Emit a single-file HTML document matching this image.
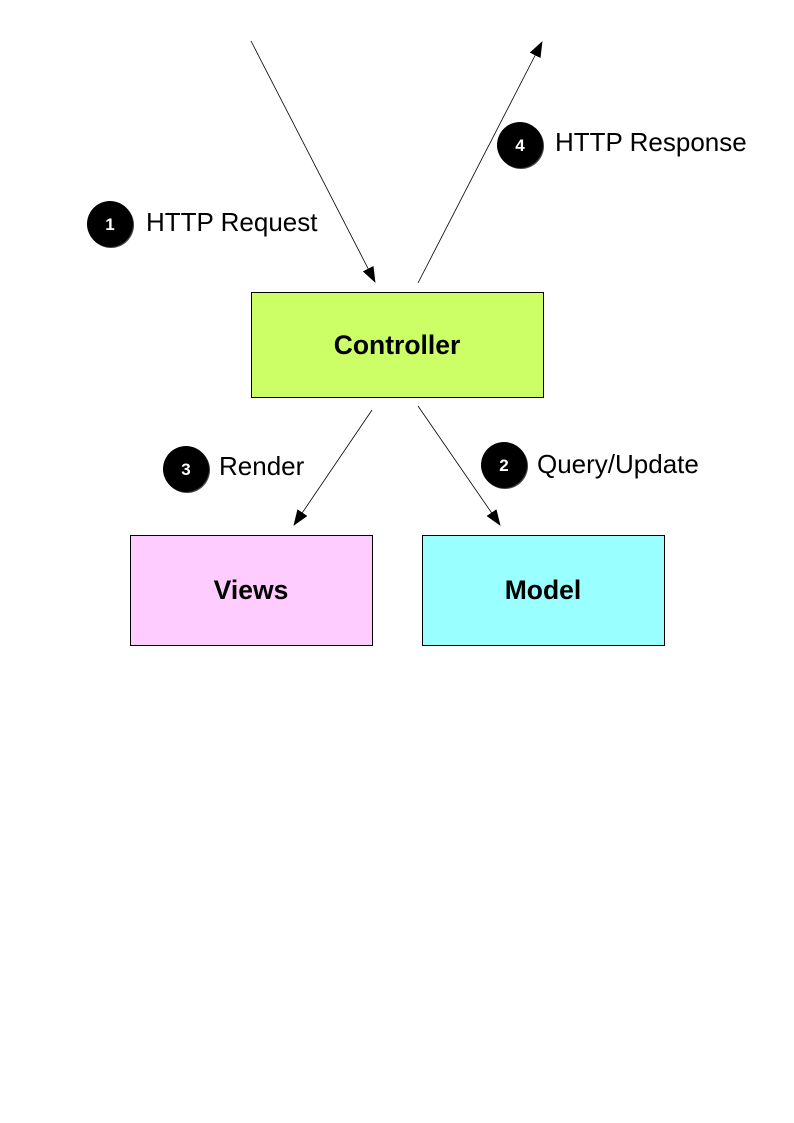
<!DOCTYPE html>
<html><head><meta charset="utf-8"><style>body{margin:0;background:#fff}svg{display:block}</style></head><body>
<svg width="794" height="1123" xmlns="http://www.w3.org/2000/svg" font-family="Liberation Sans, sans-serif">
<defs><marker id="a" markerWidth="16" markerHeight="14" refX="15" refY="6" orient="auto" markerUnits="userSpaceOnUse"><path d="M0,0 L16,6 L0,12 z" fill="#000"/></marker></defs>
<rect width="794" height="1123" fill="#fff"/>
<g stroke="#000" stroke-width="0.8" fill="none">
<line x1="251" y1="41" x2="375" y2="282" marker-end="url(#a)"/>
<line x1="418" y1="283" x2="542" y2="42" marker-end="url(#a)"/>
<line x1="372" y1="410" x2="294" y2="525" marker-end="url(#a)"/>
<line x1="418" y1="406" x2="500" y2="525" marker-end="url(#a)"/>
</g>
<rect x="251.5" y="292.5" width="292" height="105" fill="#ccff66" stroke="#000"/>
<rect x="130.5" y="535.5" width="242" height="110" fill="#ffccff" stroke="#000"/>
<rect x="422.5" y="535.5" width="242" height="110" fill="#99ffff" stroke="#000"/>
<g font-weight="bold" font-size="26.5" text-anchor="middle">
<text x="397" y="354">Controller</text>
<text x="251" y="599">Views</text>
<text x="543" y="599">Model</text>
</g>
<g fill="#000">
<circle cx="111" cy="225" r="23" fill="#444"/><circle cx="110" cy="224" r="23"/>
<circle cx="521" cy="146" r="23" fill="#444"/><circle cx="520" cy="145" r="23"/>
<circle cx="187" cy="470" r="23" fill="#444"/><circle cx="186" cy="469" r="23"/>
<circle cx="505" cy="466" r="23" fill="#444"/><circle cx="504" cy="465" r="23"/>
</g>
<g fill="#fff" font-weight="bold" font-size="17" text-anchor="middle">
<text x="110" y="230">1</text><text x="520" y="151">4</text><text x="186" y="475">3</text><text x="504" y="471">2</text>
</g>
<g font-size="26">
<text x="146" y="231">HTTP Request</text>
<text x="555" y="151">HTTP Response</text>
<text x="219" y="475">Render</text>
<text x="537" y="473">Query/Update</text>
</g>
</svg>
</body></html>
